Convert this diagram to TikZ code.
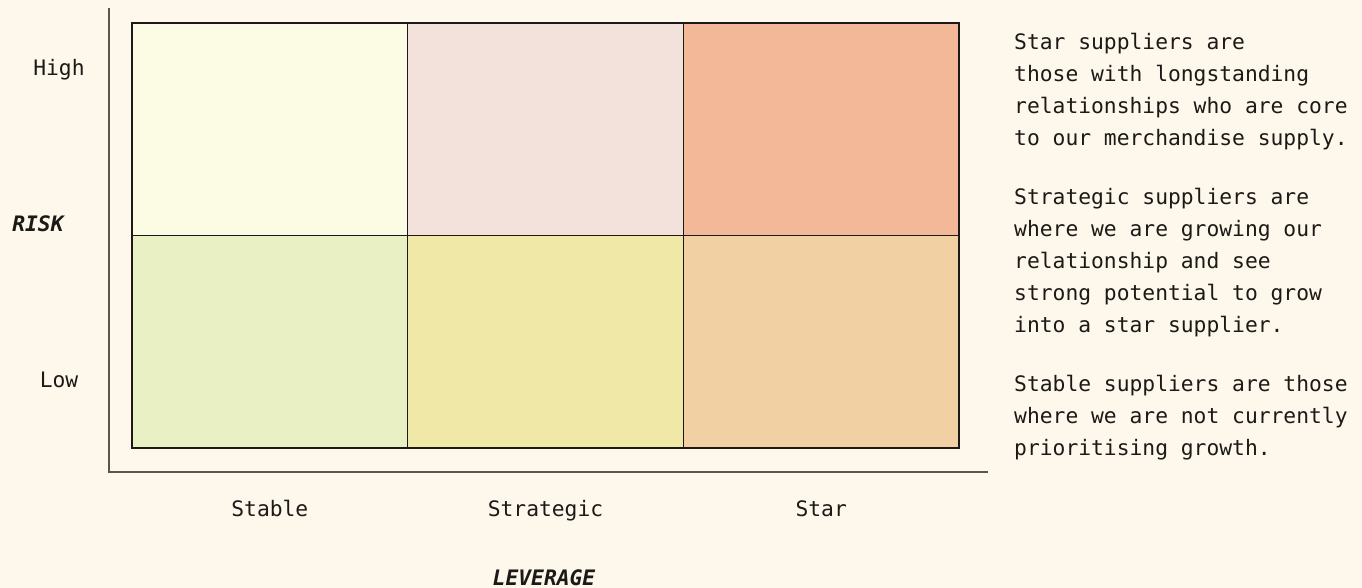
\documentclass[tikz,border=0pt]{standalone}
\usepackage{fontspec}
\setmonofont{DejaVu Sans Mono}
\usetikzlibrary{positioning}

\definecolor{paper}{HTML}{FEF8EC}
\definecolor{ink}{HTML}{1C1A17}
\definecolor{axisgray}{HTML}{5A564E}
\definecolor{stablehighfill}{HTML}{FCFBE4}
\definecolor{strathighfill}{HTML}{F3E1DC}
\definecolor{starhighfill}{HTML}{F2B898}
\definecolor{stablelowfill}{HTML}{E8F0C4}
\definecolor{stratlowfill}{HTML}{F0E8A6}
\definecolor{starlowfill}{HTML}{F1D0A3}

\begin{document}
\begin{tikzpicture}[x=1pt, y=-1pt,
    every node/.style={font=\ttfamily\fontsize{21.3}{32}\selectfont, text=ink},
    cell/.style={rectangle, outer sep=0pt, inner sep=0pt,
      minimum width=275.67pt, minimum height=212.5pt},
    cellborder/.style={draw=ink, line width=1.3pt},
    axlabel/.style={anchor=base, inner sep=0pt},
    axtitle/.style={anchor=base, inner sep=0pt, font=\ttfamily\bfseries\itshape\fontsize{21.3}{32}\selectfont},
    note/.style={anchor=north west, align=left, inner sep=0pt},
    axis/.style={draw=axisgray, line width=1.5pt}]
    % Background
    \fill[paper] (0,0) rectangle (1362,588);
    \useasboundingbox (0,0) rectangle (1362,588);

    % Matrix cells
    \node (stablehigh) [cell, fill=stablehighfill, anchor=north west] at (132,23) {};
    \node (strathigh) [cell, fill=strathighfill, right=0pt of stablehigh] {};
    \node (starhigh) [cell, fill=starhighfill, right=0pt of strathigh] {};
    \node (stablelow) [cell, fill=stablelowfill, below=0pt of stablehigh] {};
    \node (stratlow) [cell, fill=stratlowfill, below=0pt of strathigh] {};
    \node (starlow) [cell, fill=starlowfill, below=0pt of starhigh] {};
    \foreach \c in {stablehigh,strathigh,starhigh,stablelow,stratlow,starlow}
      \draw[cellborder] (\c.north west) rectangle (\c.south east);

    % Axes
    \coordinate (axtop) at (109,8);
    \coordinate (origin) at (109,472);
    \coordinate (axend) at (988,472);
    \draw[axis] (axtop) -- (origin) -- (axend);

    % Axis labels
    \coordinate (lblrow) at (0,516);
    \node (high) [axlabel] at (59,76) {High};
    \node (low) [axlabel] at (59,387) {Low};
    \node (risk) [axtitle] at (38,231) {RISK};
    \node (stable) [axlabel] at (stablelow.south |- lblrow) {Stable};
    \node (strategic) [axlabel] at (stratlow.south |- lblrow) {Strategic};
    \node (star) [axlabel] at (starlow.south |- lblrow) {Star};
    \node (leverage) [axtitle] at (544,585) {LEVERAGE};

    % Notes
    \node (starnote) [note] at (1014,33) {Star suppliers are\\those with longstanding\\relationships who are core\\to our merchandise supply.};
    \node (stratnote) [note] at (1014,188) {Strategic suppliers are\\where we are growing our\\relationship and see\\strong potential to grow\\into a star supplier.};
    \node (stablenote) [note] at (1014,375) {Stable suppliers are those\\where we are not currently\\prioritising growth.};
\end{tikzpicture}
\end{document}
